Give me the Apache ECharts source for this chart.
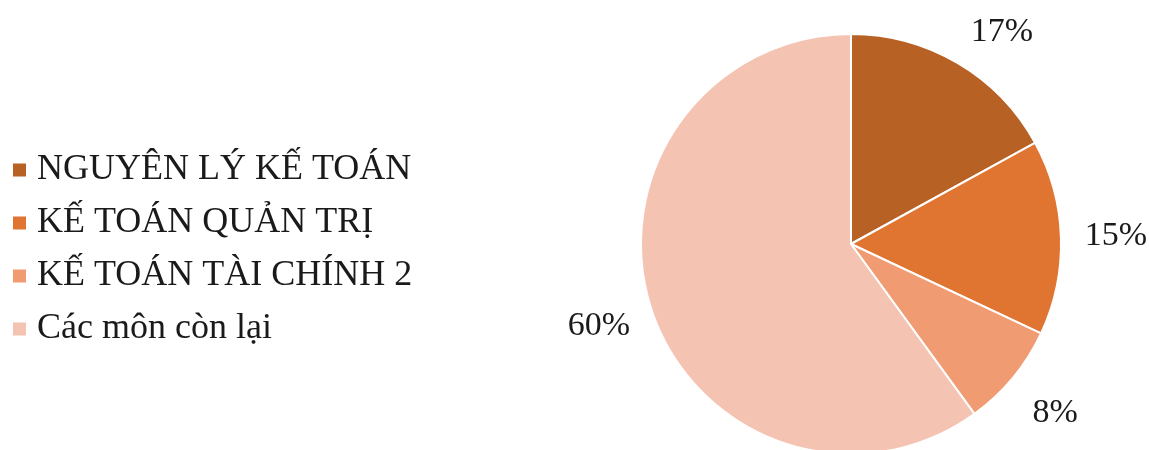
<!DOCTYPE html>
<html>
<head>
<meta charset="utf-8">
<script src="https://cdn.jsdelivr.net/npm/echarts@6/dist/echarts.min.js"></script>
<style>
  html, body { margin: 0; padding: 0; background: #fff; }
  #chart { width: 1149px; height: 450px; }
</style>
</head>
<body>
<div id="chart"></div>
<script>
const categories = ['NGUYÊN LÝ KẾ TOÁN', 'KẾ TOÁN QUẢN TRỊ', 'KẾ TOÁN TÀI CHÍNH 2', 'Các môn còn lại']
const values = [17, 15, 8, 60]
const colors = ['#B86125', '#E07431', '#F09B72', '#F4C3B1']

const font = '"Liberation Serif", "Times New Roman", serif'
const pieData = categories.map((name, i) => ({ name: name, value: values[i] }))

const chart = echarts.init(document.getElementById('chart'), null, { renderer: 'canvas' })
chart.setOption({
    animation: false,
    color: colors,
    legend: {
        orient: 'vertical',
        left: 11,
        top: 152,
        padding: 0,
        itemWidth: 15,
        itemHeight: 15,
        itemGap: 17,
        icon: 'rect',
        data: categories,
        textStyle: {
            fontFamily: font,
            fontSize: 36,
            lineHeight: 36,
            color: '#1a1a1a',
            padding: [0, 0, 0, 5]
        }
    },
    series: [{
        // the visible pie
        type: 'pie',
        center: [851, 244],
        radius: 210,
        startAngle: 90,
        clockwise: true,
        silent: true,
        itemStyle: { borderColor: '#fff', borderWidth: 2 },
        label: { show: false },
        labelLine: { show: false },
        data: pieData
    }, {
        // transparent ring only to place the percent labels
        type: 'pie',
        center: [851, 244],
        radius: [250, 274],
        startAngle: 90,
        clockwise: true,
        silent: true,
        legendHoverLink: false,
        itemStyle: { color: 'transparent' },
        label: {
            show: true,
            position: 'inside',
            formatter: '{c}%',
            fontFamily: font,
            fontSize: 34,
            color: '#1a1a1a'
        },
        labelLine: { show: false },
        // excel nudges the first label a bit further round
        labelLayout: function (params) {
            return params.dataIndex === 0 ? { dx: 16, dy: 16 } : {}
        },
        data: pieData
    }]
})
</script>
</body>
</html>
